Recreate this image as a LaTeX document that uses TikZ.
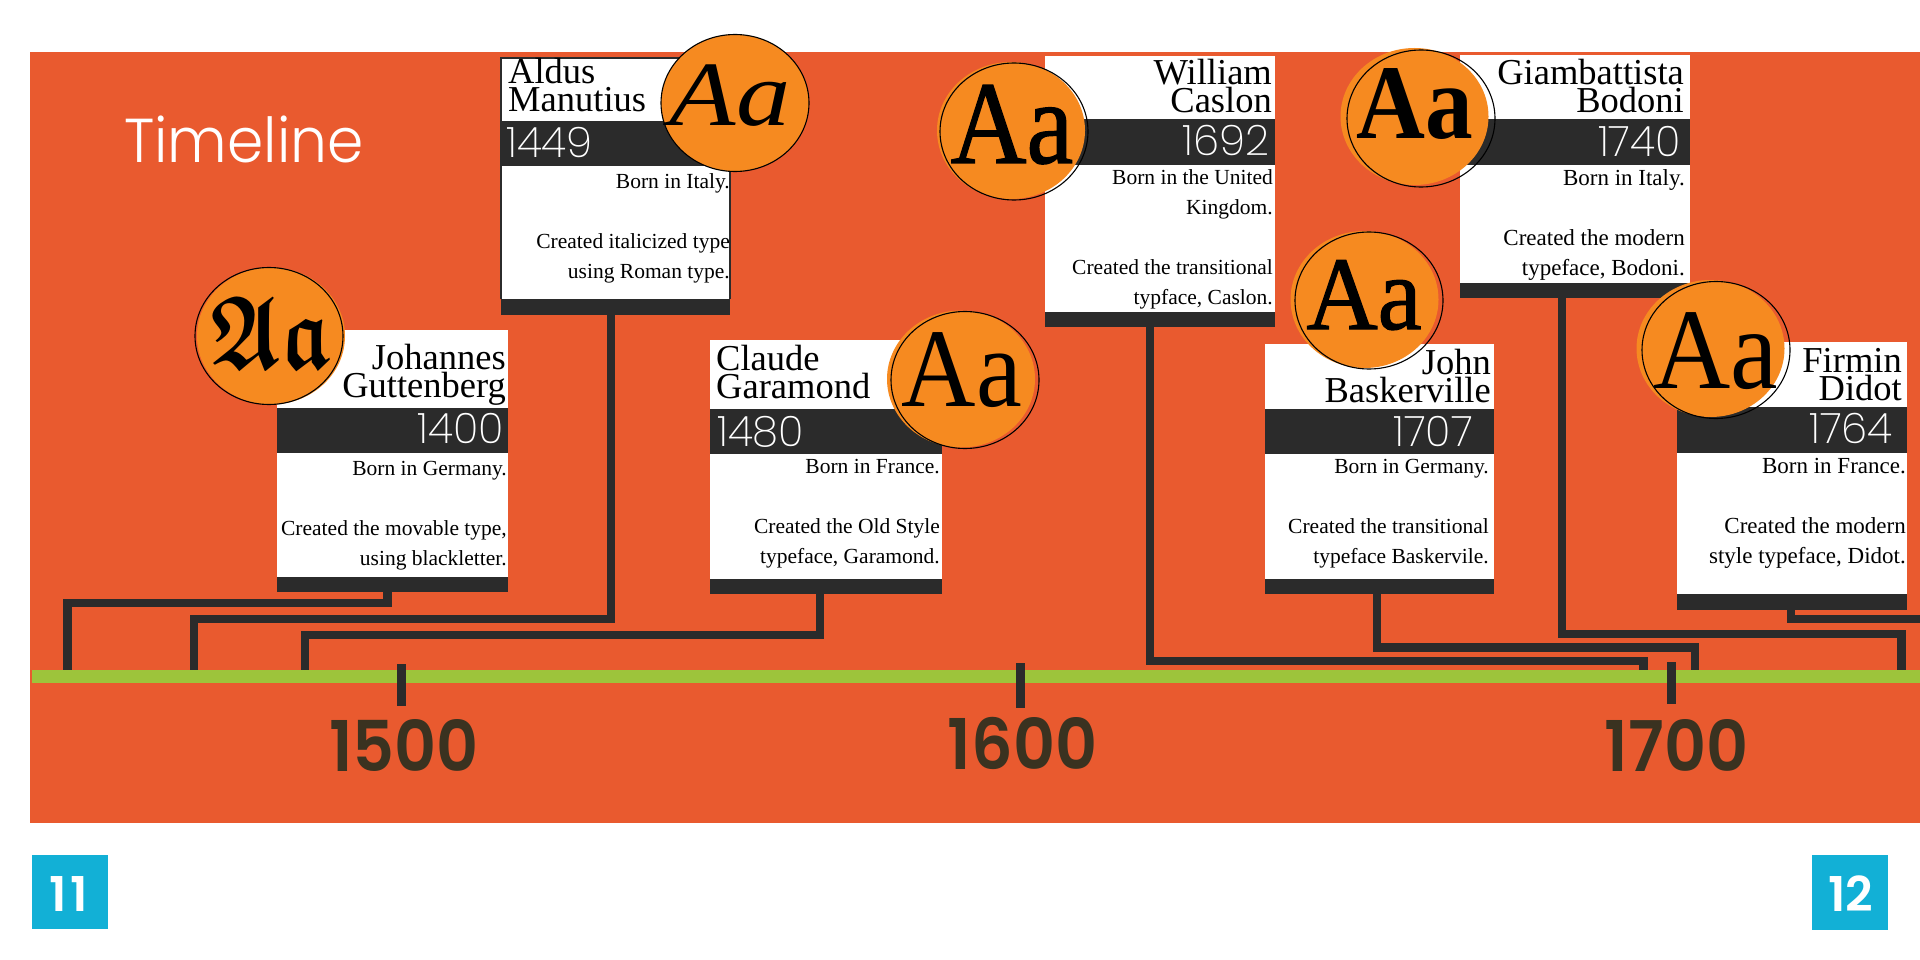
\documentclass[tikz,border=0pt]{standalone}
\usepackage{fontspec}
\setmainfont{Liberation Serif}
\newfontfamily\lightf{Poppins ExtraLight}
\newfontfamily\titlef{Poppins Light}
\newfontfamily\boldf{Poppins SemiBold}
\newfontfamily\heavyf{Liberation Serif}[FakeBold=1.2]
\font\blk=eufb10 at 104pt
\definecolor{bgor}{HTML}{E95A2F}
\definecolor{dk}{HTML}{2B2B2B}
\definecolor{circ}{HTML}{F68A20}
\definecolor{grn}{HTML}{9DC43B}
\definecolor{num}{HTML}{3A3220}
\definecolor{sq}{HTML}{12B0D6}
\usetikzlibrary{shapes.geometric}
\newcommand\bx[6][]{%
  \pgfmathsetmacro\bw{#5-#3}\pgfmathsetmacro\bh{#6-#4}%
  \node[rectangle,inner sep=0pt,outer sep=0pt,anchor=north west,minimum width=\bw pt,minimum height=\bh pt,#1] (#2) at (#3,#4) {};}
\newcommand\card[8]{% name x0 x1 top bandtop bandbot whitebot footbot
  \bx[fill=white]{#1w}{#2}{#4}{#3}{#7}
  \bx[fill=dk]{#1b}{#2}{#5}{#3}{#6}
  \bx[fill=dk]{#1f}{#2}{#7}{#3}{#8}}
\newcommand\disc[6]{% name cx cy dx dy text
  \fill[circ] (#2+#4,#3+#5) ellipse [x radius=74,y radius=68.5];
  \node[ellipse,draw=black,line width=1.1pt,inner sep=0pt,minimum width=148pt,minimum height=137pt] (#1) at (#2,#3) {};
  #6}
\tikzset{
  conn/.style={draw=dk,line width=8.5pt,line join=miter},
  who/.style={inner sep=0pt,align=right,anchor=base east,font=\fontsize{36.5}{28}\selectfont},
  wholeft/.style={who,align=left,anchor=base west},
  bio/.style={inner sep=0pt,align=right,anchor=base east,font=\fontsize{21.5}{30}\selectfont},
  biowide/.style={bio,font=\fontsize{23}{30}\selectfont},
  yr/.style={inner sep=0pt,anchor=base east,text=white,font=\fontsize{42}{42}\lightf},
  yrleft/.style={yr,anchor=base west},
  era/.style={inner sep=0pt,anchor=base,text=num,font=\fontsize{70}{70}\boldf},
  tick/.style={fill=dk},
  pg/.style={inner sep=0pt,anchor=base,text=white,font=\fontsize{48}{48}\boldf},
  aa/.style={inner sep=0pt,anchor=base},
}
\begin{document}
\begin{tikzpicture}[x=1pt,y=-1pt]
\useasboundingbox (0,0) rectangle (1920,960);
\fill[white] (0,0) rectangle (1920,960);
\bx[fill=bgor]{bg}{30}{52}{1920}{823}
\bx[fill=grn]{axis}{32}{670}{1920}{683}
\node[inner sep=0pt,anchor=base west,text=white,font=\fontsize{62}{62}\titlef] (title) at (124,163) {\scalebox{.94}[1]{Timeline}};

% axis attachment points
\coordinate (a1) at (67.5,670);
\coordinate (a2) at (194,670);
\coordinate (a3) at (305,670);
\coordinate (a4) at (1643.5,670);
\coordinate (a5) at (1695,670);
\coordinate (a6) at (1901.5,670);
\coordinate (edge) at (1920,619);

% cards
\card{gut}{277}{508}{330}{408}{453}{577}{592}
\card{ald}{501}{730}{58}{121}{166}{299}{315}
\draw[dk,line width=1.4pt] (aldw.south west) -- (aldw.north west) -- (aldw.north east) -- (aldw.south east);
\card{gar}{710}{942}{340}{409}{454}{579}{594}
\card{cas}{1045}{1275}{56}{119}{165}{312}{327}
\card{bas}{1265}{1494}{344}{409}{454}{579}{594}
\card{bod}{1460}{1690}{55}{119}{165}{283}{298}
\card{did}{1677}{1907}{342}{407}{453}{594}{610}

% connectors
\draw[conn] (gutf.south west -| 387.5,0) -- ++(0,11) -| (a1);
\draw[conn] (aldf.south west -| 611,0) -- ++(0,304) -| (a2);
\draw[conn] (garf.south west -| 820,0) -- ++(0,41) -| (a3);
\draw[conn] (casf.south west -| 1150,0) -- ++(0,334) -| (a4);
\draw[conn] (basf.south west -| 1377,0) -- ++(0,53.5) -| (a5);
\draw[conn] (bodf.south west -| 1562,0) -- ++(0,336) -| (a6);
\draw[conn] (didf.south west -| 1791,0) |- (edge);

% ticks and eras
\bx[tick]{t15}{397}{664}{406}{706}
\bx[tick]{t16}{1016}{663}{1025}{708}
\bx[tick]{t17}{1667}{662}{1676}{704}
\node[era] (e15) at (404,771) {\scalebox{.93}[1]{1500}};
\node[era] (e16) at (1022.5,769) {\scalebox{.93}[1]{1600}};
\node[era] (e17) at (1676.5,771) {\scalebox{.93}[1]{1700}};

% discs
\disc{dgut}{269}{336}{2}{0}{\node[aa] (tgut) at (271,368) {\scalebox{.8}[1]{\blk Aa}};}
\disc{dald}{735}{103}{0}{0}{\node[aa,font=\fontsize{92}{92}\selectfont\itshape] (tald) at (730,126) {\scalebox{1.18}[1]{Aa}};}
\disc{dgar}{965}{380}{-4}{-1}{\node[aa,font=\fontsize{112}{112}\selectfont] (tgar) at (962,406) {\scalebox{.92}[1]{Aa}};}
\disc{dcas}{1014}{131.5}{-3}{-1}{\node[aa,font=\fontsize{118}{118}\heavyf] (tcas) at (1012,163) {\scalebox{.89}[1]{Aa}};}
\disc{dbas}{1369}{300.5}{-4.5}{-1}{\node[aa,font=\fontsize{104}{104}\heavyf] (tbas) at (1364,329) {\scalebox{.95}[1]{Aa}};}
\disc{dbod}{1421}{118.5}{-6.5}{-2}{\node[aa,font=\fontsize{106}{106}\selectfont\bfseries] (tbod) at (1415,139) {\scalebox{.9}[1]{Aa}};}
\disc{ddid}{1716}{350}{-5.5}{-1.5}{\node[aa,font=\fontsize{115}{115}\selectfont] (tdid) at (1716,388) {\scalebox{.93}[1]{Aa}};}

% names
\node[who] (ngut) at (506,397) {Johannes\\Guttenberg};
\node[wholeft] (nald) at (508,112) {Aldus\\Manutius};
\node[wholeft] (ngar) at (716,398) {Claude\\Garamond};
\node[who] (ncas) at (1272,113) {William\\Caslon};
\node[who] (nbas) at (1491,402) {John\\Baskerville};
\node[who] (nbod) at (1684,113) {Giambattista\\Bodoni};
\node[who] (ndid) at (1902,400) {Firmin\\Didot};

% years
\node[yr] (ygut) at (504,443) {1400};
\node[yrleft] (yald) at (506,158) {1449};
\node[yrleft] (ygar) at (717,446) {1480};
\node[yr] (ycas) at (1270,156) {1692};
\node[yr] (ybas) at (1473,446) {1707};
\node[yr] (ybod) at (1681,157) {1740};
\node[yr] (ydid) at (1893,443) {1764};

% biographies
\node[bio] (bgut) at (507,565) {Born in Germany.\\ \\Created the movable type,\\using blackletter.};
\node[bio] (bald) at (730,278) {Born in Italy.\\ \\Created italicized type\\using Roman type.};
\node[bio] (bgar) at (940,563) {Born in France.\\ \\Created the Old Style\\typeface, Garamond.};
\node[bio] (bcas) at (1273,304) {Born in the United\\Kingdom.\\ \\Created the transitional\\typface, Caslon.};
\node[bio] (bbas) at (1489,563) {Born in Germany.\\ \\Created the transitional\\typeface Baskervile.};
\node[biowide] (bbod) at (1685,276) {Born in Italy.\\ \\Created the modern\\typeface, Bodoni.};
\node[biowide] (bdid) at (1906,563) {Born in France.\\ \\Created the modern\\style typeface, Didot.};

% page numbers
\bx[fill=sq]{p11}{32}{855}{108}{929}
\bx[fill=sq]{p12}{1812}{855}{1888}{930}
\node[pg] (n11) at (69,911) {1\kern4pt 1};
\node[pg] (n12) at (1851,911) {12};
\end{tikzpicture}
\end{document}
